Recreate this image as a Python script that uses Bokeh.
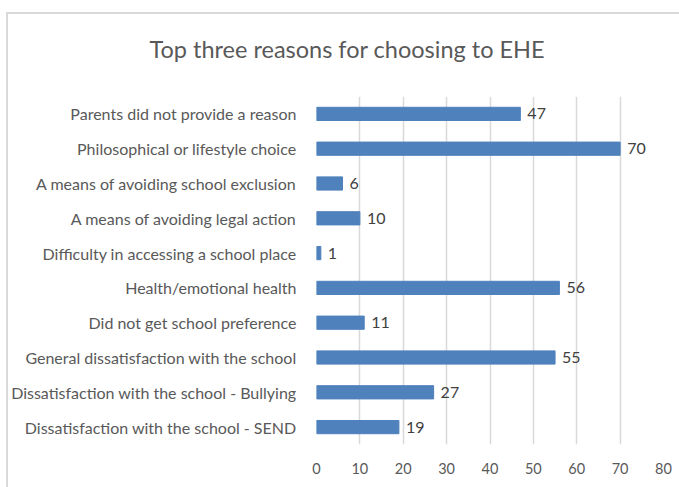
from bokeh.plotting import figure
from bokeh.models import ColumnDataSource, FactorRange, Div
from bokeh.layouts import column
from bokeh.core.properties import value
from bokeh.embed import file_html
from bokeh.resources import INLINE

categories = [
    "Parents did not provide a reason",
    "Philosophical or lifestyle choice",
    "A means of avoiding school exclusion",
    "A means of avoiding legal action",
    "Difficulty in accessing a school place",
    "Health/emotional health",
    "Did not get school preference",
    "General dissatisfaction with the school",
    "Dissatisfaction with the school - Bullying",
    "Dissatisfaction with the school - SEND",
]
counts = [47, 70, 6, 10, 1, 56, 11, 55, 27, 19]
x_ticks = [0, 10, 20, 30, 40, 50, 60, 70, 80]
title_text = "Top three reasons for choosing to EHE"

FONT = "Lato"
TEXT = "#595959"

src = ColumnDataSource(dict(cat=categories, val=counts, lbl=[str(v) for v in counts]))

title_div = Div(
    text=title_text, width=671, height=62,
    styles={"text-align": "center", "font-family": FONT, "font-size": "23.5px",
            "color": TEXT, "line-height": "60px", "width": "668px"},
)

p = figure(
    width=671, height=402,
    y_range=FactorRange(factors=list(reversed(categories)), range_padding=0),
    x_range=(0, 80),
    output_backend="svg", toolbar_location=None,
    min_border_left=306, min_border_right=16, min_border_top=10, min_border_bottom=44,
)

p.hbar(y="cat", right="val", left=0, height=0.38, source=src,
       fill_color="#4f81bd", line_color="#4f81bd")
p.text(x="val", y="cat", text="lbl", source=src, x_offset=7,
       text_baseline="middle", text_align="left",
       text_font=value(FONT), text_font_size="16px", text_color="#404040")

p.xaxis.ticker = x_ticks
p.xaxis.axis_line_color = None
p.xaxis.major_tick_line_color = None
p.xaxis.minor_tick_line_color = None
p.xaxis.major_label_standoff = 12
p.xaxis.major_label_text_font = FONT
p.xaxis.major_label_text_font_size = "14.5px"
p.xaxis.major_label_text_color = TEXT

p.yaxis.axis_line_color = None
p.yaxis.major_tick_line_color = None
p.yaxis.minor_tick_line_color = None
p.yaxis.major_label_standoff = 14
p.yaxis.major_label_text_font = FONT
p.yaxis.major_label_text_font_size = "16px"
p.yaxis.major_label_text_color = TEXT

p.ygrid.grid_line_color = None
p.xgrid.grid_line_color = "#d9d9d9"
p.xgrid.grid_line_width = 1.5
p.outline_line_color = None

layout = column(
    title_div, p, spacing=0,
    styles={"border-left": "2px solid #d9d9d9", "border-top": "2px solid #d9d9d9",
            "margin-left": "6px", "margin-top": "12px", "background": "white"},
)

open("out.html", "w").write(file_html(layout, INLINE))
